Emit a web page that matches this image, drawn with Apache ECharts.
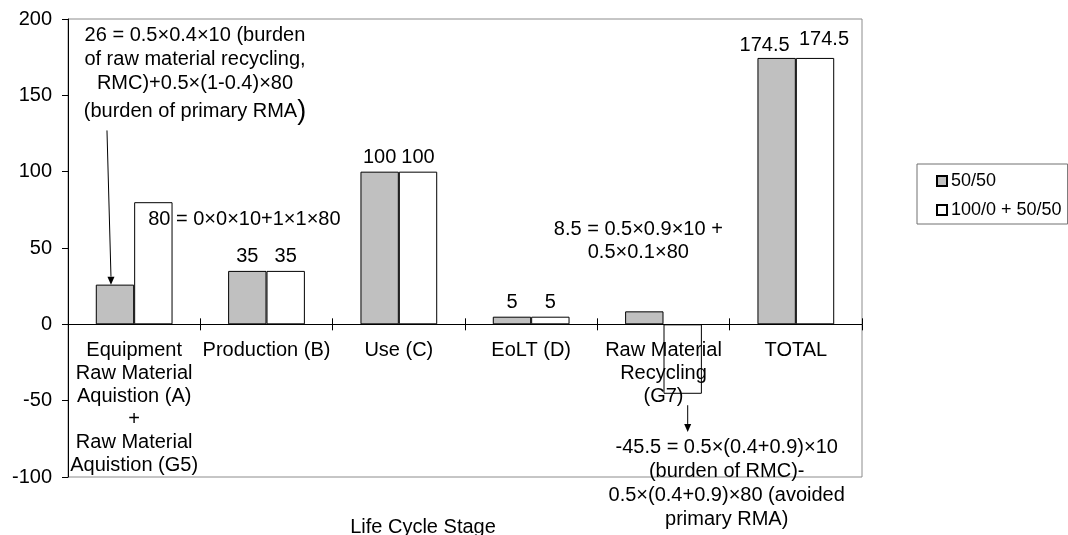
<!DOCTYPE html>
<html>
<head>
<meta charset="utf-8">
<script src="https://cdn.jsdelivr.net/npm/echarts@6/dist/echarts.min.js"></script>
<style>
html,body{margin:0;padding:0;background:#fff;}
#c{width:1068px;height:535px;}
</style>
</head>
<body>
<div id="c"></div>
<script>
const categories = [
  'Equipment\nRaw Material\nAquistion (A)\n+\nRaw Material\nAquistion (G5)',
  'Production (B)',
  'Use (C)',
  'EoLT (D)',
  'Raw Material\nRecycling\n(G7)',
  'TOTAL'
];
const seriesNames = ['50/50', '100/0 + 50/50'];
const values5050 = [26, 35, 100, 5, 8.5, 174.5];
const values100050 = [80, 35, 100, 5, -45.5, 174.5];
const yTicks = { min: -100, max: 200, interval: 50 };
const axisTitle = 'Life Cycle Stage';

const note26 = ['26 = 0.5×0.4×10 (burden', 'of raw material recycling,', 'RMC)+0.5×(1-0.4)×80', '(burden of primary RMA', ')'];
const note80 = '80 = 0×0×10+1×1×80';
const note85 = ['8.5 = 0.5×0.9×10 +', '0.5×0.1×80'];
const note455 = ['-45.5 = 0.5×(0.4+0.9)×10', '(burden of RMC)-', '0.5×(0.4+0.9)×80 (avoided', 'primary RMA)'];
// arrow annotations: [category index, from value, to value]
const arrow1 = [0, 127, 26];
const arrow2 = [4, -53, -70.5];

const FONT = "'Liberation Sans', Arial, sans-serif";

function plainLabel(extra) {
  return Object.assign({ show: true, position: 'top', distance: 4, formatter: '{c}' }, extra || {});
}

const grayLabels = [
  {
    show: true, position: 'top', distance: 0, offset: [80, -157],
    formatter: '{a|' + note26[0] + '}\n{a|' + note26[1] + '}\n{a|' + note26[2] + '}\n{a|' + note26[3] + '}{b|' + note26[4] + '}',
    rich: {
      a: { fontSize: 20, lineHeight: 24, fontFamily: FONT, color: '#000' },
      b: { fontSize: 27, lineHeight: 32, fontFamily: FONT, color: '#000' }
    }
  },
  plainLabel(),
  plainLabel(),
  plainLabel(),
  { show: true, position: 'top', distance: 0, offset: [-6, -47], lineHeight: 23, formatter: note85.join('\n') },
  plainLabel({ offset: [-12, 2] })
];
const whiteLabels = [
  { show: true, position: 'insideTopLeft', distance: 0, offset: [14, 6], lineHeight: 23, formatter: note80 },
  plainLabel(),
  plainLabel(),
  plainLabel(),
  { show: true, position: 'bottom', distance: 0, offset: [44, 42], lineHeight: 24, formatter: note455.join('\n') },
  plainLabel({ offset: [9, -4] })
];

const chart = echarts.init(document.getElementById('c'), null, { renderer: 'canvas' });

const labelBase = { color: '#000', fontSize: 20, fontFamily: FONT };

const option = {
  animation: false,
  backgroundColor: '#fff',
  textStyle: { fontFamily: FONT, color: '#000' },
  grid: {
    left: 68, right: 206, top: 19, bottom: 58,
    containLabel: false,
    outerBoundsMode: 'none',
    show: true, borderColor: '#8c8c8c', borderWidth: 1, backgroundColor: 'transparent'
  },
  legend: {
    orient: 'vertical',
    left: 917, top: 164,
    padding: [8, 6, 5, 19],
    itemGap: 11,
    itemWidth: 10, itemHeight: 10,
    icon: 'rect',
    borderColor: '#707070', borderWidth: 1,
    textStyle: { fontSize: 18, color: '#000', fontFamily: FONT, padding: [0, 0, 0, -1] },
    data: seriesNames
  },
  xAxis: [
    {
      type: 'category',
      data: categories,
      position: 'bottom',
      offset: 0,
      z: 5,
      axisLine: { onZero: false, lineStyle: { color: '#000', width: 1 } },
      axisTick: { show: true, length: 6, lineStyle: { color: '#000' } },
      axisLabel: { interval: 0, margin: 15, fontSize: 20, lineHeight: 23, color: '#000', fontFamily: FONT },
      name: axisTitle,
      nameLocation: 'middle',
      nameGap: 193,
      nameTextStyle: { fontSize: 20, color: '#000', fontFamily: FONT, padding: [0, 84, 0, 0] },
      splitLine: { show: false }
    },
    {
      type: 'category',
      data: categories,
      position: 'bottom',
      offset: 0,
      z: 5,
      axisLine: { show: false, onZero: false },
      axisTick: { show: true, inside: true, length: 6, lineStyle: { color: '#000' } },
      axisLabel: { show: false },
      splitLine: { show: false }
    }
  ],
  yAxis: {
    type: 'value',
    min: yTicks.min, max: yTicks.max, interval: yTicks.interval,
    axisLine: { show: true, lineStyle: { color: '#000', width: 1 } },
    axisTick: { show: true, length: 6, lineStyle: { color: '#000' } },
    axisLabel: { margin: 16, fontSize: 20, color: '#000', fontFamily: FONT },
    splitLine: { show: false }
  },
  series: [
    {
      name: seriesNames[0],
      type: 'bar',
      barGap: '0%',
      barCategoryGap: '42%',
      itemStyle: { color: '#c0c0c0', borderColor: '#000', borderWidth: 1 },
      label: labelBase,
      data: values5050.map((v, i) => ({ value: v, label: Object.assign({}, labelBase, grayLabels[i]) }))
    },
    {
      name: seriesNames[1],
      type: 'bar',
      barGap: '0%',
      barCategoryGap: '42%',
      itemStyle: { color: '#ffffff', borderColor: '#000', borderWidth: 1 },
      label: labelBase,
      data: values100050.map((v, i) => ({ value: v, label: Object.assign({}, labelBase, whiteLabels[i]) }))
    }
  ]
};

chart.setOption(option);

// move the category axis (line, ticks, labels) up to the zero value
const zeroY = chart.convertToPixel({ yAxisIndex: 0 }, 0);
const bottomY = chart.convertToPixel({ yAxisIndex: 0 }, yTicks.min);
const axisOffset = -(bottomY - zeroY);
chart.setOption({ xAxis: [{ offset: axisOffset }, { offset: axisOffset }] });

function arrowGraphics(seriesIndex, spec, dxStart, dxEnd) {
  const data = chart.getModel().getSeriesByIndex(seriesIndex).getData();
  const lay = data.getItemLayout(spec[0]);
  const cx = lay.x + lay.width / 2;
  const y1 = chart.convertToPixel({ yAxisIndex: 0 }, spec[1]);
  const y2 = chart.convertToPixel({ yAxisIndex: 0 }, spec[2]);
  const x1 = cx + dxStart, x2 = cx + dxEnd;
  const dir = y2 > y1 ? 1 : -1;
  const head = 8, hw = 3.5;
  return [
    { type: 'line', shape: { x1: x1, y1: y1, x2: x2, y2: y2 - dir * head }, style: { stroke: '#000', lineWidth: 1 }, z: 100 },
    { type: 'polygon', shape: { points: [[x2 - hw, y2 - dir * head], [x2 + hw, y2 - dir * head], [x2, y2]] }, style: { fill: '#000' }, z: 100 }
  ];
}

chart.setOption({
  graphic: [].concat(
    arrowGraphics(0, arrow1, -8, -4),
    arrowGraphics(1, arrow2, 5, 5)
  )
});
</script>
</body>
</html>
